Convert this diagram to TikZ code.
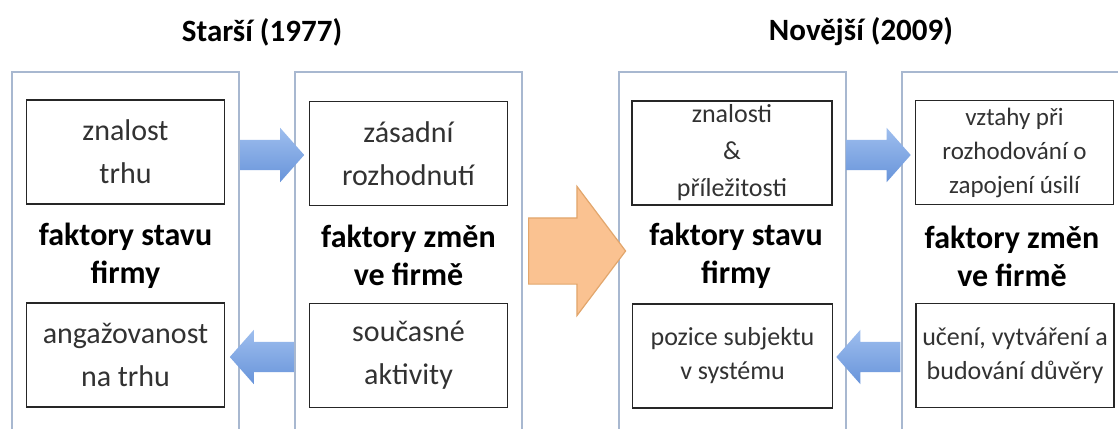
\documentclass[tikz,border=0pt]{standalone}
\usepackage{fontspec}
\setmainfont{Carlito}
\usetikzlibrary{shapes.arrows,positioning}
\definecolor{ramec}{RGB}{168,184,208}
\definecolor{modra}{RGB}{104,148,218}
\definecolor{svetlemodra}{RGB}{158,190,238}
\definecolor{oranz}{RGB}{250,194,145}
\definecolor{oranzokraj}{RGB}{226,166,108}
\definecolor{textseda}{RGB}{50,50,50}
\tikzset{
  panel/.style={
      rectangle,
      draw=ramec,
      line width=2pt,
      fill=white,
      minimum width=227pt,
      minimum height=380pt
  },
  box/.style={
      rectangle,
      draw=black!85,
      line width=1.6pt,
      fill=white,
      inner sep=0pt,
      minimum width=198pt,
      minimum height=104pt,
      align=center,
      text=textseda
  },
  velky/.style={font=\fontsize{30}{43}\selectfont},
  maly/.style={font=\fontsize{25}{34}\selectfont},
  stitek/.style={align=center, font=\bfseries\fontsize{32}{38}\selectfont},
  nadpis/.style={font=\bfseries\fontsize{31}{36}\selectfont},
  sipka/.style={
      single arrow,
      anchor=tail,
      inner xsep=0pt,
      inner ysep=15pt,
      minimum height=64pt,
      single arrow head extend=12pt,
      single arrow tip angle=97,
      top color=svetlemodra,
      bottom color=modra,
      draw=none
  },
  velkasipka/.style={
      single arrow,
      anchor=tail,
      inner xsep=0pt,
      inner ysep=32.5pt,
      minimum height=97pt,
      single arrow head extend=31.5pt,
      single arrow tip angle=106,
      fill=oranz,
      draw=oranzokraj,
      line width=1.2pt
  }
}
\begin{document}
\begin{tikzpicture}[x=1pt,y=-1pt]
    \clip (0,0) rectangle (1118,428);
    \fill[white] (0,0) rectangle (1118,428);
    % titles
    \node[nadpis] (starsi) at (262,32) {Starší (1977)};
    \node[nadpis] (novejsi) at (861,32) {Novější (2009)};
    % panels
    \node[panel] (s1) at (125.5,262) {};
    \node[panel] (s2) at (408.5,262) {};
    \node[panel] (s3) at (732,262) {};
    \node[panel] (s4) at (1015,262) {};
    % boxes
    \node[box,velky] (z1) at (125.5,152) {znalost\\trhu};
    \node[box,velky] (z2) at (408.5,153.5) {zásadní\\rozhodnutí};
    \node[box,velky] (b1) at (125.5,355) {angažovanost\\na trhu};
    \node[box,velky] (b2) at (408.5,355.5) {současné\\aktivity};
    \node[box,font=\fontsize{26}{37}\selectfont,minimum width=200pt] (z3) at (732,153) {znalosti\\\&\\příležitosti};
    \node[box,maly] (z4) at (1014.5,152.5) {vztahy při\\rozhodování o\\zapojení úsilí};
    \node[box,font=\fontsize{26}{34}\selectfont,minimum width=200pt] (b3) at (732.5,356) {pozice subjektu\\v systému};
    \node[box,font=\fontsize{26}{34}\selectfont] (b4) at (1015,355.5) {učení, vytváření a\\budování důvěry};
    % labels
    \node[stitek] (l1) at (125.5,256) {faktory stavu\\firmy};
    \node[stitek] (l2) at (408.5,255) {faktory změn\\ve firmě};
    \node[stitek] (l3) at (736,256) {faktory stavu\\firmy};
    \node[stitek] (l4) at (1012,256) {faktory změn\\ve firmě};
    % arrows
    \node[sipka] (a1) at (s1.east |- 0,155) {};
    \node[sipka,shape border rotate=180] (a2) at (s2.west |- 0,357) {};
    \node[sipka] (a3) at (s3.east |- 0,155) {};
    \node[sipka,shape border rotate=180] (a4) at (s4.west |- 0,357) {};
    \node[velkasipka] (a5) at ([xshift=5pt]s2.east |- 0,251) {};
\end{tikzpicture}
\end{document}
